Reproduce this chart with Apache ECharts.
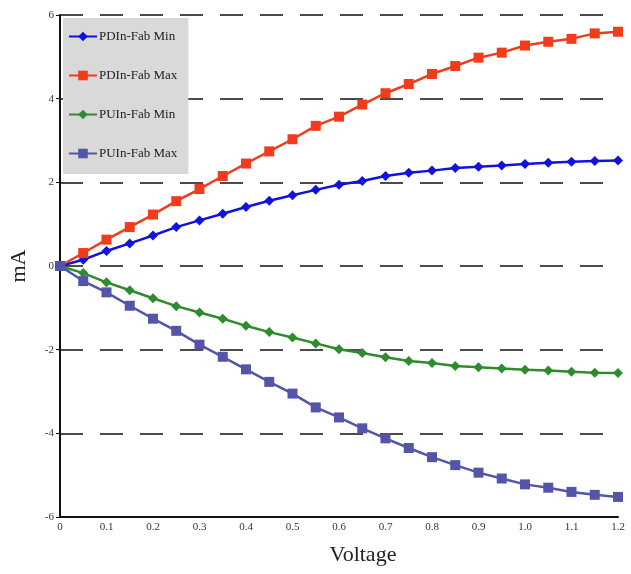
<!DOCTYPE html>
<html>
<head>
<meta charset="utf-8">
<script src="https://cdn.jsdelivr.net/npm/echarts@6/dist/echarts.min.js"></script>
<style>
html,body{margin:0;padding:0;background:#fff;}
#chart{width:631px;height:574px;}
</style>
</head>
<body>
<div id="chart"></div>
<script>
const voltage = [0,0.05,0.1,0.15,0.2,0.25,0.3,0.35,0.4,0.45,0.5,0.55,0.6,0.65,0.7,0.75,0.8,0.85,0.9,0.95,1.0,1.05,1.1,1.15,1.2];
const pdMin = [0,0.15,0.36,0.54,0.73,0.93,1.09,1.25,1.41,1.56,1.69,1.82,1.94,2.03,2.15,2.23,2.28,2.34,2.37,2.40,2.44,2.47,2.49,2.51,2.52];
const pdMax = [0,0.31,0.63,0.93,1.23,1.55,1.84,2.15,2.45,2.74,3.03,3.35,3.57,3.86,4.13,4.35,4.59,4.78,4.98,5.10,5.27,5.36,5.43,5.56,5.60];
const puMin = [0,-0.17,-0.39,-0.58,-0.77,-0.96,-1.11,-1.26,-1.43,-1.58,-1.71,-1.85,-1.99,-2.08,-2.18,-2.27,-2.32,-2.39,-2.42,-2.45,-2.48,-2.50,-2.53,-2.55,-2.56];
const puMax = [0,-0.36,-0.63,-0.95,-1.26,-1.55,-1.88,-2.17,-2.47,-2.77,-3.05,-3.38,-3.62,-3.88,-4.12,-4.35,-4.57,-4.76,-4.94,-5.08,-5.22,-5.30,-5.40,-5.47,-5.52];
const seriesNames = ['PDIn-Fab Min','PDIn-Fab Max','PUIn-Fab Min','PUIn-Fab Max'];
const xTitle = 'Voltage';
const yTitle = 'mA';

const serif = '"Liberation Serif", "DejaVu Serif", serif';
const pair = arr => voltage.map((v,i)=>[v,arr[i]]);
function mk(name, data, color, symbol, size){
  return {
    name, type:'line', data: pair(data), symbol, symbolSize:size,
    lineStyle:{color, width:2.5}, itemStyle:{color},
    emphasis:{disabled:true}
  };
}
const chart = echarts.init(document.getElementById('chart'));
chart.setOption({
  animation:false,
  backgroundColor:'#fff',
  grid:{left:57, right:13, top:15, bottom:57},
  legend:{
    orient:'vertical', left:63, top:18,
    backgroundColor:'#d9d9d9',
    padding:[12,11,14,5],
    itemGap:26, itemWidth:28, itemHeight:12,
    textStyle:{fontFamily:serif, fontSize:13, color:'#222', padding:[0,0,0,-3]},
    data: seriesNames
  },
  xAxis:{
    type:'value', min:0, max:1.2, interval:0.1,
    name:xTitle, nameLocation:'middle', nameGap:27,
    nameTextStyle:{fontFamily:serif, fontSize:22, color:'#222', padding:[0,0,0,48]},
    axisLine:{onZero:false, lineStyle:{color:'#111', width:2}},
    axisTick:{show:false},
    axisLabel:{fontFamily:serif, fontSize:11, color:'#333', margin:5,
      formatter:v=> v===0 ? '0' : v.toFixed(1)},
    splitLine:{show:false}
  },
  yAxis:{
    type:'value', min:-6, max:6, interval:2,
    name:yTitle, nameLocation:'middle', nameGap:30, nameRotate:90,
    nameTextStyle:{fontFamily:serif, fontSize:22, color:'#222'},
    axisLine:{show:true, onZero:false, lineStyle:{color:'#111', width:2}},
    axisTick:{show:true, length:4, lineStyle:{color:'#111'}},
    axisLabel:{fontFamily:serif, fontSize:11, color:'#333', margin:6},
    splitLine:{show:true, lineStyle:{color:'#111', width:1.5, type:[23,17]}}
  },
  series:[
    mk(seriesNames[0], pdMin, '#1212dd', 'diamond', 10),
    mk(seriesNames[1], pdMax, '#f03c1c', 'rect', 10),
    mk(seriesNames[2], puMin, '#2e8b2e', 'diamond', 10),
    mk(seriesNames[3], puMax, '#5454a8', 'rect', 10)
  ]
});
</script>
</body>
</html>
